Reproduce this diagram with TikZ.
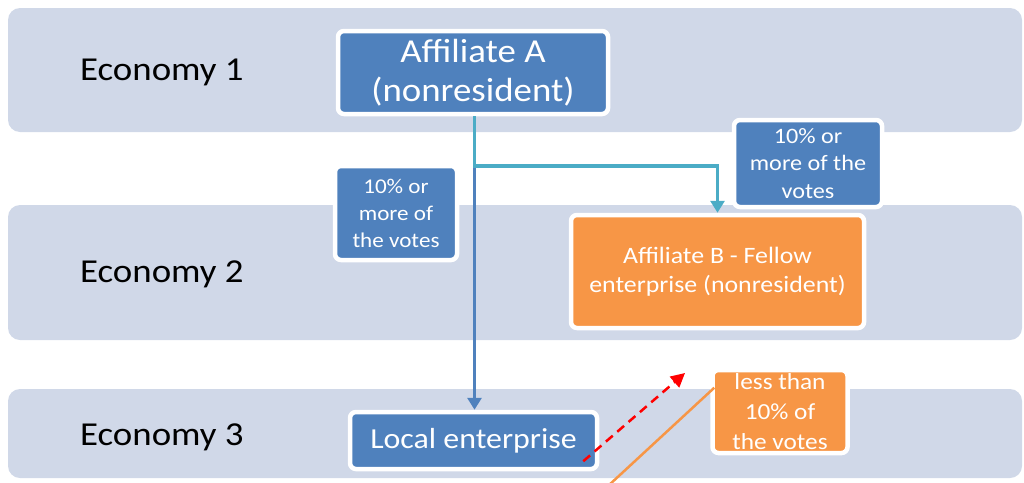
\documentclass[tikz,border=0pt]{standalone}
\usepackage{fontspec}
\setmainfont{Carlito}[FakeStretch=1.1]
\usetikzlibrary{arrows.meta}
\definecolor{bandcol}{HTML}{D0D8E8}
\definecolor{blueF}{HTML}{4F81BD}
\definecolor{orangeF}{HTML}{F79646}
\definecolor{tealL}{HTML}{4BACC6}
\begin{document}
\begin{tikzpicture}[x=1pt,y=-1pt,
  band/.style={fill=bandcol,rounded corners=12pt,draw=none},
  econ/.style={anchor=base west,font=\fontsize{33.5}{40}\selectfont,text=black,inner sep=0pt},
  box/.style={draw=white,line width=4.5pt,rounded corners=6pt,inner sep=0pt,text=white,align=center},
  bluebox/.style={box,fill=blueF},
  orangebox/.style={box,fill=orangeF},
  conn/.style={line width=3.8pt},
  tip/.style={-{Triangle[width=14pt,length=12pt]}}
  ]
\useasboundingbox (0,0) rectangle (1024,482);
\clip (0,0) rectangle (1024,482);
% bands
\fill[band] (8,8) rectangle (1022,132);
\fill[band] (8,205) rectangle (1022,340);
\fill[band] (8,389) rectangle (1022,478);
% economy labels
\node[econ] (E1) at (80,80.5) {Economy 1};
\node[econ] (E2) at (80,282) {Economy 2};
\node[econ] (E3) at (80,445) {Economy 3};
% boxes
\node[bluebox, minimum width=270pt, minimum height=83pt, font=\fontsize{33.5}{39}\selectfont] (AffA) at (473,72.5) {Affiliate A\\(nonresident)};
\node[bluebox, minimum width=122pt, minimum height=94pt, font=\fontsize{21}{27}\selectfont] (LblL) at (396,213) {10\% or\\more of\\the votes};
\node[bluebox, minimum width=148pt, minimum height=87pt, font=\fontsize{22}{27.5}\selectfont] (LblR) at (808,163.5) {10\% or\\more of the\\votes};
\node[orangebox, minimum width=293pt, minimum height=113pt, font=\fontsize{23.5}{29}\selectfont] (AffB) at (717.5,271.5) {Affiliate B - Fellow\\enterprise (nonresident)};
\node[bluebox, minimum width=247pt, minimum height=57pt, font=\fontsize{29}{35}\selectfont] (Local) at (473.5,440.5) {Local enterprise};
\node[orangebox, minimum width=135pt, minimum height=83pt, font=\fontsize{23}{30}\selectfont] (Less) at (780,411.5) {less than\\10\% of\\the votes};
% connectors
\coordinate (J) at (474.5,166);
\draw[conn,blueF,tip] (J) -- (Local.north -| J);
\draw[conn,tealL,tip] (AffA.south -| J) -- (J) -| (AffB.north);
\coordinate (RedTip) at (685,373);
\draw[red,line width=2.5pt,dash pattern=on 9pt off 6pt,-{Triangle[width=14pt,length=14pt]}] ([shift={(-16,-10)}]Local.south east) -- (RedTip);
\coordinate (OrFoot) at (608,486);
\draw[orangeF,line width=2.5pt] (OrFoot) -- ([shift={(4,20)}]Less.north west);
\end{tikzpicture}
\end{document}
